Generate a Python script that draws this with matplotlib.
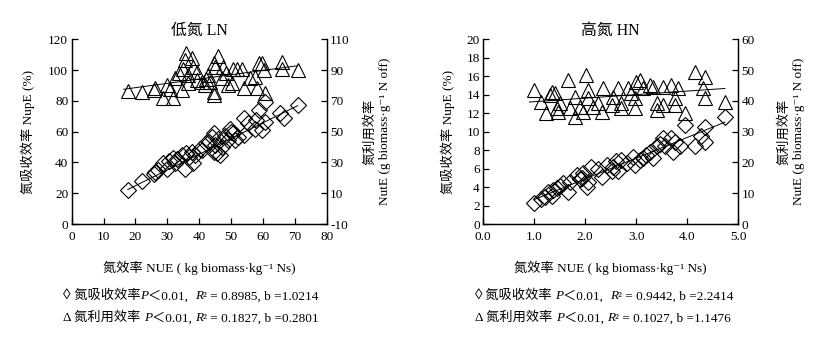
import matplotlib.pyplot as plt
from matplotlib.offsetbox import TextArea, HPacker, AnchoredOffsetbox

plt.rcParams['font.family'] = ['Liberation Serif', 'Noto Sans CJK SC', 'DejaVu Serif']
plt.rcParams['font.size'] = 9.5
plt.rcParams['font.weight'] = 'light'
plt.rcParams['axes.titleweight'] = 'light'
plt.rcParams['axes.labelweight'] = 'light'
plt.rcParams['axes.unicode_minus'] = False

# ---------------- low N (LN) ----------------
ln_x_d = [17.6, 22, 25.8, 26, 28.7, 29.8, 31.7, 32.4, 34.5, 35.6, 36, 37.6, 38, 38.7,
          40.3, 42.2, 44, 44.5, 45, 44.5, 45.5, 46.6, 47, 48, 49, 49.7, 50.7, 51.3,
          52.3, 53.9, 53.9, 55.4, 57.5, 57.8, 58.6, 59.6, 60.7, 60.7, 65.4, 66.5, 70.9,
          27, 30.5, 33, 36.8, 41, 43, 46, 50]
ln_nupe = [22.1, 28, 32.5, 34, 39.4, 36, 43, 39.4, 45, 36, 46, 47, 39.4, 45,
           49, 52.4, 56.8, 59, 51.4, 47, 46, 45, 50, 57, 54.6, 62, 59, 54.6,
           56.8, 57.9, 68.7, 65.4, 62, 67.6, 74, 61, 79.5, 66.5, 72, 68.7, 77.4,
           35, 41, 42, 43.5, 48, 53, 55, 60]

ln_x_t = [17.8, 22, 25.8, 26.2, 29.8, 28.7, 31.9, 30.8, 32.4, 34.5, 34.8, 35.6, 36,
          37.6, 36.5, 36.5, 39.2, 39.2, 40.8, 41.8, 42.9, 43.4, 44.5, 44.5, 44.5, 45,
          46, 47.6, 47, 49, 50.2, 50.7, 51.7, 53.3, 53.9, 56, 57.5, 58, 58.6, 59.6,
          60.2, 60.7, 66, 66, 70.9, 33.5, 38, 42, 48.5]
ln_nute = [76.7, 75.6, 77, 78.5, 80.4, 72, 72, 77.5, 84.7, 77, 91, 96.6, 101,
           97.7, 86.9, 81.4, 89, 83.6, 82.5, 80.4, 86.9, 82.5, 94.4, 76, 74, 92.3,
           99.3, 92.3, 84.7, 80.4, 81.4, 91, 91, 91, 78.2, 84.7, 85.8, 78.2, 94.4, 94.4,
           90, 75, 95.5, 91, 90, 88, 92, 84, 88]

# ---------------- high N (HN) ----------------
hn_x_d = [1.0, 1.14, 1.27, 1.34, 1.44, 1.5, 1.67, 1.7, 1.83, 1.9, 1.96, 2.03, 2.06,
          2.12, 2.25, 2.32, 2.42, 2.52, 2.55, 2.65, 2.71, 2.81, 2.94, 2.97, 3.07,
          3.14, 3.27, 3.33, 3.4, 3.46, 3.53, 3.56, 3.69, 3.73, 3.76, 3.86, 3.95,
          4.15, 4.28, 4.35, 4.35, 4.74, 1.21, 1.37, 1.57, 1.93, 2.6, 3.2]
hn_nupe = [2.24, 2.7, 3.5, 3.0, 3.9, 4.1, 3.5, 4.6, 5.3, 4.9, 5.5, 4.0, 4.6,
           6.2, 6.0, 5.1, 6.4, 5.7, 6.2, 5.7, 6.9, 6.6, 7.3, 6.4, 6.9,
           7.1, 7.8, 7.1, 8.4, 8.7, 9.3, 8.4, 9.3, 7.8, 8.9, 8.4, 10.7,
           8.4, 9.5, 10.5, 8.9, 11.6, 2.9, 3.7, 4.4, 5.0, 6.8, 7.5]

hn_x_t = [1.0, 1.14, 1.24, 1.31, 1.34, 1.41, 1.44, 1.47, 1.5, 1.67, 1.7, 1.8, 1.8,
          1.9, 1.96, 2.02, 2.06, 2.06, 2.16, 2.25, 2.32, 2.35, 2.52, 2.55, 2.65,
          2.71, 2.71, 2.84, 2.9, 2.97, 2.97, 3.0, 3.07, 3.14, 3.27, 3.33, 3.4, 3.4,
          3.53, 3.53, 3.69, 3.76, 3.76, 3.82, 3.95, 4.15, 4.35, 4.31, 4.35, 4.74]
hn_nute = [43.5, 39.8, 36, 41.9, 43, 42.5, 37.6, 36.5, 39.2, 46.8, 37.6, 41.4, 34.9,
           38.1, 36.5, 48.4, 43.5, 40.8, 38.1, 39.2, 36.5, 44.1, 38.7, 41.4, 44.1,
           39.2, 37.6, 44.1, 42.5, 40.8, 37.6, 46.3, 46.8, 44.1, 45.2, 44.6, 39.2, 37,
           44.6, 38.7, 45.2, 40.8, 38.7, 44.1, 36, 49.5, 47.9, 44.1, 40.8, 39.8]

# regression lines (slope from the caption, intercept)
ln_fit_d = (1.0214, 4.5)
ln_fit_t = (0.2801, 73.0)
hn_fit_d = (2.2414, 0.41)
hn_fit_t = (1.1476, 38.6)

titles = ["低氮 LN", "高氮 HN"]
xlabel = "氮效率 NUE ( kg biomass·kg⁻¹ Ns)"
ylabel_l = "氮吸收效率 NupE (%)"
ylabel_r = "氮利用效率\nNutE (g biomass·g⁻¹ N off)"
cap_ln = [[("◊", "bold"), " 氮吸收效率", ("P", "italic"), "＜0.01,  ", ("R", "italic"), "² = 0.8985, b =1.0214"],
          ["Δ 氮利用效率 ", ("P", "italic"), "＜0.01, ", ("R", "italic"), "² = 0.1827, b =0.2801"]]
cap_hn = [[("◊", "bold"), " 氮吸收效率 ", ("P", "italic"), "＜0.01,  ", ("R", "italic"), "² = 0.9442, b =2.2414"],
          ["Δ 氮利用效率 ", ("P", "italic"), "＜0.01, ", ("R", "italic"), "² = 0.1027, b =1.1476"]]

fig = plt.figure(figsize=(8.36, 3.39), dpi=100)
ax1 = fig.add_axes([0.0858, 0.339, 0.305, 0.545])
ax3 = fig.add_axes([0.578, 0.339, 0.305, 0.545])


def panel(ax, xd, yd, xt, yt, fd, ft, title, xlim, xticks, xtl, ylim, yticks,
          y2lim, y2ticks, ylx, y2lx):
    ax2 = ax.twinx()
    mk = dict(linestyle='none', markerfacecolor='none', markeredgecolor='black',
              markeredgewidth=0.8)
    ax.plot(xd, yd, marker='D', markersize=7.8, **mk)
    ax2.plot(xt, yt, marker='^', markersize=9.5, **mk)
    x0, x1 = min(xd), max(xd)
    ax.plot([x0, x1], [fd[1] + fd[0] * x0, fd[1] + fd[0] * x1], color='black', lw=0.7)
    x0, x1 = min(xt) - 1.5 * (xlim[1] - xlim[0]) / 80, max(xt)
    ax2.plot([x0, x1], [ft[1] + ft[0] * x0, ft[1] + ft[0] * x1], color='black', lw=0.7)

    ax.set_xlim(xlim)
    ax.set_xticks(xticks)
    ax.set_xticklabels(xtl)
    ax.set_ylim(ylim)
    ax.set_yticks(yticks)
    ax2.set_ylim(y2lim)
    ax2.set_yticks(y2ticks)
    for a in (ax, ax2):
        a.spines['top'].set_visible(False)
        for s in a.spines.values():
            s.set_linewidth(0.9)
        a.tick_params(direction='in', length=4, width=0.9, pad=2.5)
    ax.tick_params(axis='x', pad=5)

    ax.set_title(title, pad=1.5)
    ax.set_xlabel(xlabel, va='center')
    ax.xaxis.set_label_coords(0.5, -0.238)
    ax.set_ylabel(ylabel_l, va='center')
    ax.yaxis.set_label_coords(ylx, 0.5)
    ax2.set_ylabel(ylabel_r, va='center', ha='center', linespacing=1.3)
    ax2.yaxis.set_label_coords(y2lx, 0.5)


panel(ax1, ln_x_d, ln_nupe, ln_x_t, ln_nute, ln_fit_d, ln_fit_t, titles[0],
      (0, 80), range(0, 81, 10), [str(v) for v in range(0, 81, 10)],
      (0, 120), range(0, 121, 20), (-10, 110), range(-10, 111, 20), -0.171, 1.2)
panel(ax3, hn_x_d, hn_nupe, hn_x_t, hn_nute, hn_fit_d, hn_fit_t, titles[1],
      (0, 5), [0, 1, 2, 3, 4, 5], ["0.0", "1.0", "2.0", "3.0", "4.0", "5.0"],
      (0, 20), range(0, 21, 2), (0, 60), range(0, 61, 10), -0.138, 1.209)


def caption(pieces, x, y):
    boxes = []
    for p in pieces:
        if isinstance(p, tuple) and p[1] == "bold":
            boxes.append(TextArea(p[0], textprops=dict(fontweight="bold", size=11)))
        elif isinstance(p, tuple):
            boxes.append(TextArea(p[0], textprops=dict(fontstyle=p[1], size=9.5)))
        else:
            boxes.append(TextArea(p, textprops=dict(size=9.5)))
    box = HPacker(children=boxes, sep=0, pad=0, align='baseline')
    anc = AnchoredOffsetbox(loc='center left', child=box, pad=0, borderpad=0,
                            frameon=False, bbox_to_anchor=(x, y),
                            bbox_transform=fig.transFigure)
    fig.add_artist(anc)


caption(cap_ln[0], 0.0754, 0.127)
caption(cap_ln[1], 0.0754, 0.062)
caption(cap_hn[0], 0.568, 0.127)
caption(cap_hn[1], 0.568, 0.062)

fig.savefig("out.png", dpi=100)
